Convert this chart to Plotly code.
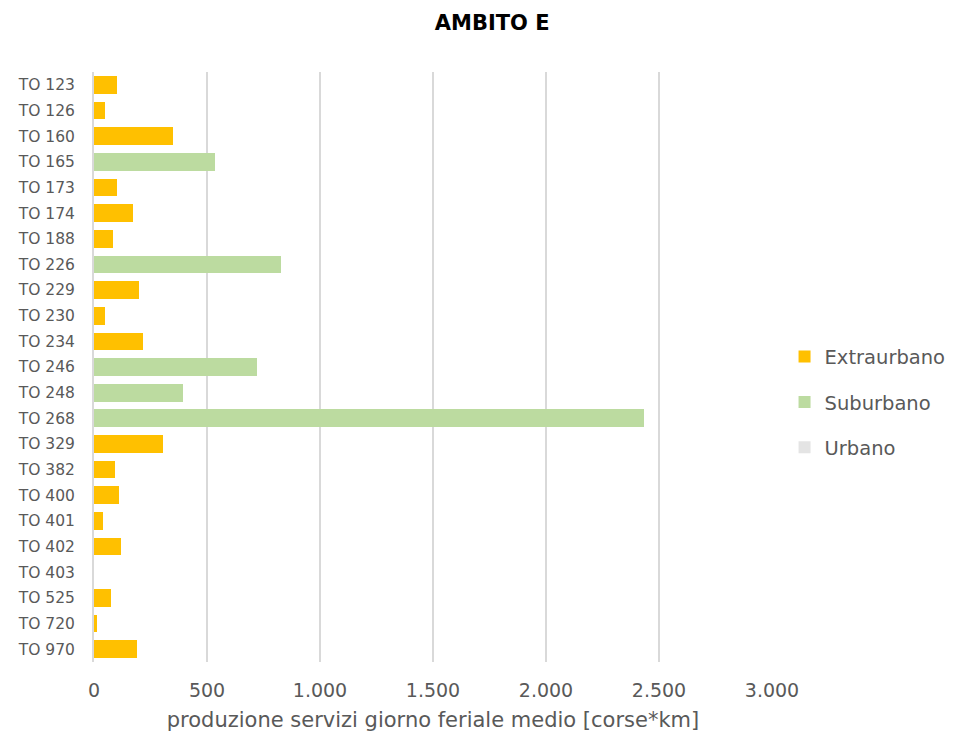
import plotly.graph_objects as go

categories = ["TO 123", "TO 126", "TO 160", "TO 165", "TO 173", "TO 174", "TO 188",
              "TO 226", "TO 229", "TO 230", "TO 234", "TO 246", "TO 248", "TO 268",
              "TO 329", "TO 382", "TO 400", "TO 401", "TO 402", "TO 403", "TO 525",
              "TO 720", "TO 970"]
extraurbano = [100, 49, 348, 0, 100, 173, 83, 0, 198, 49, 217, 0, 0, 0,
               305, 93, 111, 40, 119, 0, 75, 13, 190]
suburbano = [0, 0, 0, 534, 0, 0, 0, 826, 0, 0, 0, 720, 392, 2434,
             0, 0, 0, 0, 0, 0, 0, 0, 0]
urbano = [0] * len(categories)
x_ticks = [0, 500, 1000, 1500, 2000, 2500, 3000]

font_family = "DejaVu Sans, sans-serif"
grey = "#595959"

fig = go.Figure()
for name, vals, col in [("Extraurbano", extraurbano, "#FFC000"),
                        ("Suburbano", suburbano, "#BCDBA0"),
                        ("Urbano", urbano, "#E4E4E4")]:
    fig.add_trace(go.Bar(y=categories, x=vals, name=name, orientation="h",
                         marker=dict(color=col, line=dict(width=0)),
                         legendgroup=name))

fig.update_layout(
    width=957, height=733,
    barmode="stack", bargap=0.31,
    separators=",.",
    plot_bgcolor="white", paper_bgcolor="white",
    margin=dict(l=86, r=193, t=64, b=79, autoexpand=False),
    title=dict(text="<b>AMBITO E</b>", x=0.506, xanchor="center", y=0.98, yanchor="middle",
               font=dict(family=font_family, size=21, color="black")),
    font=dict(family=font_family, color=grey),
    legend=dict(x=1.0185, xanchor="left", y=0.44, yanchor="middle",
                font=dict(size=19.5, color=grey), tracegroupgap=17,
                itemwidth=30),
    xaxis=dict(range=[0, 3000], tickvals=x_ticks, tickformat=",d",
               showgrid=True, gridcolor="#D9D9D9", gridwidth=2, zeroline=False,
               tickfont=dict(size=19, color=grey), automargin=False,
               ticklabelstandoff=15,
               title=dict(text="produzione servizi giorno feriale medio [corse*km]",
                          font=dict(size=21, color=grey), standoff=12),
               ticks="", showline=False, fixedrange=True),
    yaxis=dict(autorange="reversed", tickfont=dict(size=15.5, color=grey),
               showgrid=False, ticks="", showline=True, linecolor="#D9D9D9", linewidth=2,
               ticklabelstandoff=14, automargin=False),
)
fig.write_html("out.html")
